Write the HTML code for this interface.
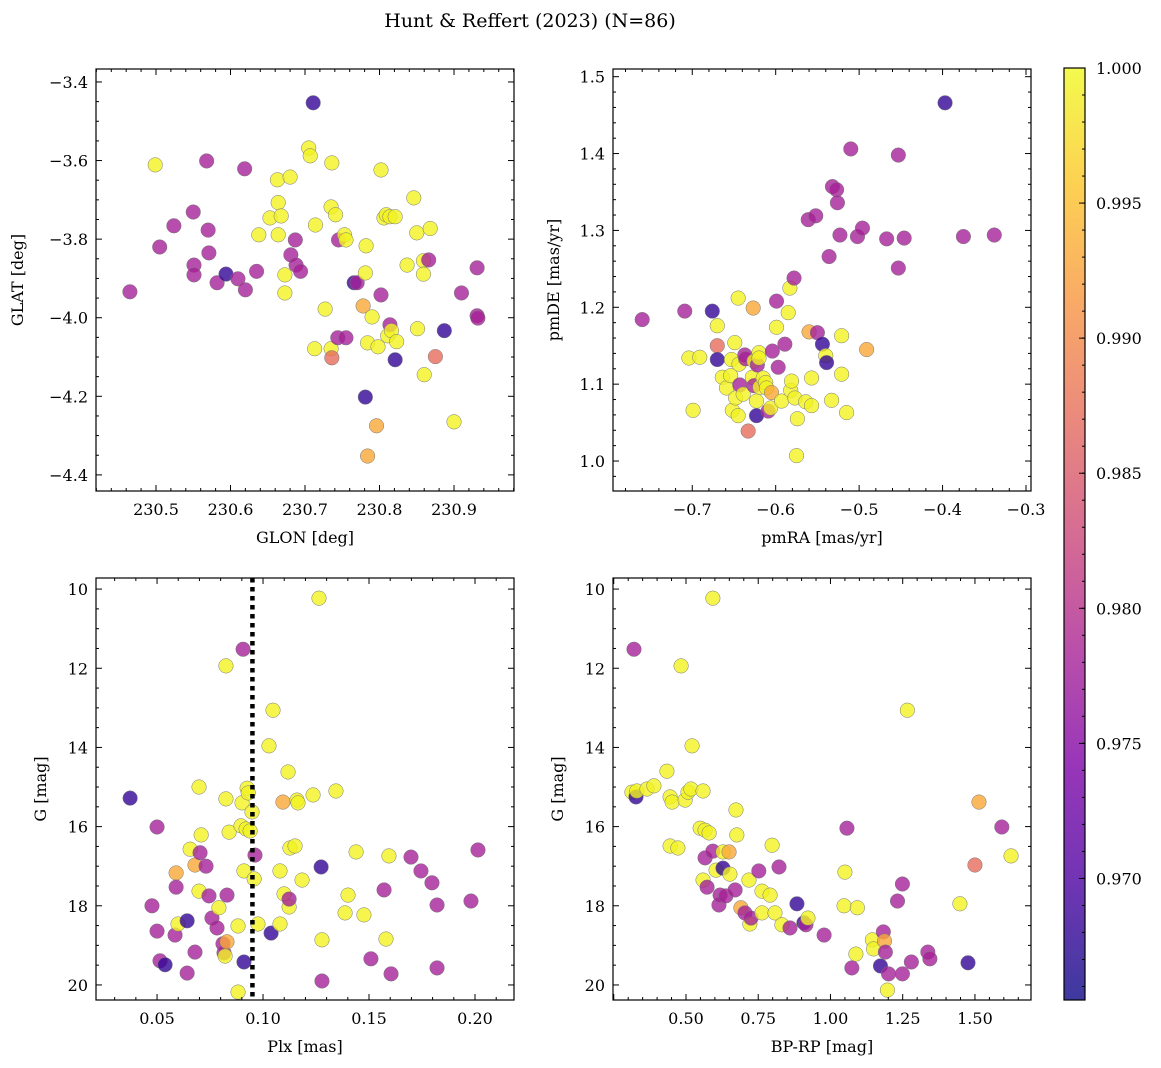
<!DOCTYPE html>
<html><head><meta charset="utf-8"><style>
body{margin:0;background:#fff;}
svg{display:block;font-family:"DejaVu Serif","Liberation Serif",serif;}
</style></head><body>
<svg id="c" width="1161" height="1068" xmlns="http://www.w3.org/2000/svg">
<defs>
<linearGradient id="plasma" x1="0" y1="1" x2="0" y2="0">
<stop offset="0" stop-color="#0d0887"/><stop offset="0.125" stop-color="#4c02a1"/><stop offset="0.25" stop-color="#7e03a8"/><stop offset="0.375" stop-color="#a92395"/><stop offset="0.5" stop-color="#cc4778"/><stop offset="0.625" stop-color="#e66c5c"/><stop offset="0.75" stop-color="#f89540"/><stop offset="0.875" stop-color="#fdc527"/><stop offset="1" stop-color="#f0f921"/>
</linearGradient>
</defs>
<text x="530" y="27" font-size="19" text-anchor="middle">Hunt &amp; Reffert (2023) (N=86)</text>
</svg>
<script>
// Probability codes: Y=0.9995, P=0.978, D=0.968, O=0.993, S=0.987
const probLevels = {Y:0.9995, P:0.978, D:0.968, O:0.993, S:0.987};
const glon = [230.465,230.499,230.505,230.524,230.550,230.551,230.551,230.568,230.570,230.571,230.582,230.594,230.610,230.619,230.620,230.635,230.638,230.653,230.663,230.664,230.664,230.668,230.673,230.673,230.680,230.681,230.687,230.688,230.694,230.705,230.707,230.711,230.713,230.714,230.727,230.736,230.735,230.735,230.736,230.741,230.745,230.744,230.755,230.753,230.755,230.766,230.770,230.778,230.782,230.781,230.781,230.784,230.784,230.790,230.796,230.798,230.802,230.802,230.806,230.809,230.811,230.814,230.814,230.816,230.821,230.821,230.823,230.837,230.846,230.850,230.851,230.860,230.859,230.859,230.866,230.868,230.875,230.887,230.900,230.910,230.931,230.931,230.932];
const glat = [-3.934,-3.611,-3.82,-3.766,-3.731,-3.866,-3.891,-3.601,-3.777,-3.835,-3.911,-3.889,-3.901,-3.621,-3.929,-3.882,-3.789,-3.746,-3.649,-3.707,-3.789,-3.741,-3.891,-3.937,-3.642,-3.840,-3.802,-3.866,-3.882,-3.568,-3.588,-3.453,-4.079,-3.764,-3.978,-3.606,-3.718,-4.079,-4.102,-3.738,-3.802,-4.051,-4.051,-3.789,-3.802,-3.911,-3.911,-3.97,-3.817,-3.886,-4.202,-4.064,-4.352,-3.998,-4.275,-4.074,-3.624,-3.942,-3.746,-3.738,-4.046,-4.018,-3.743,-4.033,-3.743,-4.107,-4.061,-3.866,-3.695,-3.784,-4.028,-4.145,-3.855,-3.889,-3.853,-3.773,-4.099,-4.033,-4.265,-3.937,-3.873,-3.995,-4.001];
const probA = "PYPPPPPPPPPDPPPPYYYYYYYYYPPPPYYDYYYYYYSYPPPYYDPOYYDYOYOYYPYYYPYYYDYYYYYYYYPYSDYPPPP";

const pmra = [-0.760,-0.709,-0.704,-0.699,-0.691,-0.676,-0.670,-0.670,-0.670,-0.664,-0.659,-0.654,-0.653,-0.652,-0.649,-0.645,-0.648,-0.645,-0.644,-0.643,-0.637,-0.636,-0.639,-0.633,-0.628,-0.626,-0.626,-0.623,-0.627,-0.623,-0.622,-0.620,-0.620,-0.619,-0.615,-0.612,-0.611,-0.609,-0.605,-0.606,-0.604,-0.599,-0.599,-0.597,-0.593,-0.589,-0.585,-0.583,-0.582,-0.581,-0.578,-0.577,-0.575,-0.574,-0.564,-0.561,-0.560,-0.557,-0.557,-0.552,-0.550,-0.544,-0.540,-0.539,-0.536,-0.533,-0.532,-0.527,-0.526,-0.523,-0.521,-0.521,-0.515,-0.510,-0.502,-0.496,-0.491,-0.467,-0.453,-0.453,-0.446,-0.397,-0.375,-0.338];
const pmde = [1.184,1.195,1.134,1.066,1.135,1.195,1.150,1.176,1.132,1.109,1.095,1.111,1.132,1.066,1.154,1.212,1.082,1.059,1.126,1.099,1.138,1.133,1.087,1.039,1.109,1.130,1.098,1.078,1.199,1.059,1.125,1.141,1.134,1.096,1.108,1.102,1.095,1.065,1.089,1.069,1.143,1.208,1.174,1.122,1.078,1.152,1.193,1.225,1.092,1.104,1.238,1.082,1.007,1.055,1.077,1.314,1.168,1.072,1.108,1.319,1.167,1.152,1.137,1.128,1.266,1.079,1.357,1.353,1.336,1.294,1.113,1.163,1.063,1.406,1.292,1.303,1.145,1.289,1.398,1.251,1.290,1.466,1.292,1.294];
const probB = "PPYYYDSYDYYYYYYYYYYPPPYSYYPYODPYYYYYYPOYPPYPYPYYYYPYYYYPOYYPPDYDPYPPPPYYYPPPOPPPPDPP";

const plx = [0.0373,0.0476,0.050,0.050,0.0514,0.0538,0.0585,0.059,0.059,0.0599,0.0642,0.0642,0.0656,0.0679,0.0679,0.0698,0.0698,0.0703,0.0708,0.0731,0.0745,0.0759,0.0783,0.0792,0.0811,0.0816,0.0825,0.083,0.0821,0.0825,0.083,0.0840,0.0882,0.0882,0.0896,0.0901,0.0906,0.091,0.091,0.092,0.0925,0.093,0.0939,0.0948,0.0958,0.0962,0.0976,0.1028,0.1038,0.1047,0.108,0.108,0.1094,0.1099,0.1118,0.1123,0.1127,0.1123,0.1151,0.116,0.1165,0.1184,0.1236,0.1264,0.1274,0.1278,0.1278,0.1344,0.1387,0.1401,0.1439,0.1476,0.1509,0.1571,0.158,0.1594,0.1604,0.1698,0.1745,0.1797,0.1821,0.1821,0.1981,0.2014];
const gmagC = [15.28,18.0,16.01,18.64,19.39,19.49,18.74,17.17,17.53,18.46,19.70,18.38,16.57,16.97,19.17,15.0,17.63,16.66,16.21,17.0,17.75,18.31,18.56,18.05,18.96,19.19,11.94,18.91,19.27,15.30,17.73,16.14,20.18,18.51,15.98,15.40,11.52,19.42,17.12,16.06,15.03,15.15,16.11,15.63,17.32,16.72,18.46,13.96,18.69,13.06,18.46,17.12,15.38,17.70,14.62,18.03,16.54,17.83,16.49,15.33,15.40,17.35,15.20,10.23,17.02,18.86,19.90,15.10,18.18,17.73,16.64,18.23,19.34,17.60,18.84,16.74,19.72,16.77,17.12,17.42,17.98,19.57,17.88,16.59];
const probC = "DPPPPDPOPYPDYOPYYPYPPPPYPPYOYYPYYYYYPDYYYYYYYPYYDYYYOYYYYPYYYYYYDYPYYYYYPPYYPPPPPPPP";

const bprp = [0.320,0.313,0.327,0.330,0.365,0.389,0.434,0.445,0.452,0.445,0.472,0.483,0.497,0.507,0.517,0.521,0.559,0.549,0.559,0.566,0.566,0.573,0.580,0.593,0.593,0.604,0.614,0.618,0.628,0.628,0.638,0.649,0.652,0.670,0.673,0.676,0.690,0.704,0.718,0.721,0.725,0.752,0.763,0.763,0.791,0.798,0.808,0.822,0.832,0.860,0.884,0.908,0.915,0.922,0.978,1.047,1.057,1.050,1.074,1.088,1.093,1.145,1.149,1.173,1.183,1.187,1.190,1.197,1.201,1.232,1.249,1.249,1.266,1.280,1.337,1.344,1.448,1.476,1.500,1.514,1.593,1.625];
const gmagD = [11.52,15.13,15.25,15.10,15.05,14.97,14.6,15.25,15.38,16.49,16.54,11.94,15.33,15.13,15.05,13.96,15.10,16.04,17.35,16.09,16.79,17.53,16.16,10.23,16.62,17.10,17.98,17.73,17.05,16.64,17.75,16.64,17.20,17.60,15.58,16.21,18.05,18.18,17.35,18.46,18.31,17.12,17.63,18.18,17.73,16.47,18.18,17.02,18.48,18.56,17.95,18.43,18.48,18.31,18.74,18.0,16.04,17.15,19.57,19.22,18.05,18.86,19.09,19.52,18.66,18.89,19.17,20.13,19.72,17.88,19.72,17.45,13.06,19.42,19.17,19.34,17.95,19.44,16.97,15.38,16.01,16.74];
const probD = "PYDYYYYYYYYYYYYYYYYYPPYYPYPPDYPOYPYYOPYYPPYYYYYPYPDDPYPYPYPYYYYDPOPYPPPPYPPPYDSOPY";

const cbTicks = [0.970,0.975,0.980,0.985,0.990,0.995,1.000];
const VMIN = 0.9655, VMAX = 1.0;

const NS = "http://www.w3.org/2000/svg";
const svg = document.getElementById('c');
function mk(tag, attrs, parent){const e=document.createElementNS(NS,tag);for(const k in attrs)e.setAttribute(k,attrs[k]);(parent||svg).appendChild(e);return e;}
const stops=[[0,[13,8,135]],[0.125,[76,2,161]],[0.25,[126,3,168]],[0.375,[169,35,149]],[0.5,[204,71,120]],[0.625,[230,108,92]],[0.75,[248,149,64]],[0.875,[253,197,39]],[1,[240,249,33]]];
function plasma(t){t=Math.max(0,Math.min(1,t));for(let i=1;i<stops.length;i++){if(t<=stops[i][0]){const a=stops[i-1],b=stops[i];const f=(t-a[0])/(b[0]-a[0]);const c=a[1].map((v,j)=>Math.round(v+(b[1][j]-v)*f));return `rgb(${c[0]},${c[1]},${c[2]})`;}}return 'rgb(240,249,33)';}
function fmt(v,d){return (v<0?'\u2212':'')+Math.abs(v).toFixed(d);}

function panel(o){
  const g=mk('g',{});
  
  
  const sx=v=>o.x0+(v-o.xmin)/(o.xmax-o.xmin)*(o.x1-o.x0);
  const sy=o.invert? v=>o.y0+(v-o.ymin)/(o.ymax-o.ymin)*(o.y1-o.y0) : v=>o.y1-(v-o.ymin)/(o.ymax-o.ymin)*(o.y1-o.y0);
  for(let i=0;i<Math.min(o.xs.length,o.ys.length);i++){
    const p=probLevels[o.probs[i]]||probLevels.Y;
    const c=mk('circle',{cx:sx(o.xs[i]),cy:sy(o.ys[i]),r:7.3,fill:plasma((p-VMIN)/(VMAX-VMIN)),'fill-opacity':0.8,stroke:'#777','stroke-width':0.5},g);
    
    
  }
  if(o.vline!==undefined){
    const l=mk('line',{x1:sx(o.vline),x2:sx(o.vline),y1:o.y0,y2:o.y1,stroke:'#000','stroke-width':4.5,'stroke-dasharray':'4.5,4.5'},g);
    
    
  }
  const fr=mk('rect',{x:o.x0,y:o.y0,width:o.x1-o.x0,height:o.y1-o.y0,fill:'none',stroke:'#000','stroke-width':1.2},g);
  
  
  const eps=1e-9;
  for(let v=Math.ceil(o.xmin/o.xminor-eps)*o.xminor; v<=o.xmax+eps; v+=o.xminor){
    const isMaj=Math.abs(v/o.xmajor-Math.round(v/o.xmajor))<1e-6;const L=isMaj?6:3;const X=sx(v);
    mk('line',{x1:X,x2:X,y1:o.y1,y2:o.y1-L,stroke:'#000','stroke-width':1},g);
    mk('line',{x1:X,x2:X,y1:o.y0,y2:o.y0+L,stroke:'#000','stroke-width':1},g);
    if(isMaj){const t=mk('text',{x:X,y:o.y1+24,'font-size':16,'text-anchor':'middle'},g);t.textContent=fmt(v,o.xdec);
      }
  }
  for(let v=Math.ceil(o.ymin/o.yminor-eps)*o.yminor; v<=o.ymax+eps; v+=o.yminor){
    const isMaj=Math.abs(v/o.ymajor-Math.round(v/o.ymajor))<1e-6;const L=isMaj?6:3;const Y=sy(v);
    mk('line',{x1:o.x0,x2:o.x0+L,y1:Y,y2:Y,stroke:'#000','stroke-width':1},g);
    mk('line',{x1:o.x1,x2:o.x1-L,y1:Y,y2:Y,stroke:'#000','stroke-width':1},g);
    if(isMaj){const t=mk('text',{x:o.x0-8,y:Y+6,'font-size':16,'text-anchor':'end'},g);t.textContent=fmt(v,o.ydec);
      }
  }
  const xl=mk('text',{x:(o.x0+o.x1)/2,y:o.y1+52,'font-size':16,'text-anchor':'middle'},g);xl.textContent=o.xlabel;
  
  const yx=o.ylx, yy=(o.y0+o.y1)/2;
  const yl=mk('text',{x:yx,y:yy,'font-size':16,'text-anchor':'middle',transform:`rotate(-90 ${yx} ${yy})`},g);yl.textContent=o.ylabel;
  
}

panel({name:'glon-glat-panel',x0:96,x1:514,y0:69,y1:491,xmin:230.4195,xmax:230.9805,ymin:-4.441,ymax:-3.367,xmajor:0.1,xminor:0.02,ymajor:0.2,yminor:0.05,xdec:1,ydec:1,xs:glon,ys:glat,probs:probA,xlabel:'GLON [deg]',ylabel:'GLAT [deg]',ylx:23});
panel({name:'proper-motion-panel',x0:613,x1:1031,y0:69,y1:491,xmin:-0.795,xmax:-0.294,ymin:0.961,ymax:1.510,xmajor:0.1,xminor:0.02,ymajor:0.1,yminor:0.02,xdec:1,ydec:1,xs:pmra,ys:pmde,probs:probB,xlabel:'pmRA [mas/yr]',ylabel:'pmDE [mas/yr]',ylx:559});
panel({name:'parallax-g-panel',x0:96,x1:514,y0:578,y1:1000,xmin:0.0212,xmax:0.2184,ymin:9.72,ymax:20.38,invert:true,xmajor:0.05,xminor:0.01,ymajor:2,yminor:0.5,xdec:2,ydec:0,xs:plx,ys:gmagC,probs:probC,xlabel:'Plx [mas]',ylabel:'G [mag]',ylx:46,vline:0.095});
panel({name:'cmd-panel',x0:613,x1:1031,y0:578,y1:1000,xmin:0.2474,xmax:1.694,ymin:9.72,ymax:20.38,invert:true,xmajor:0.25,xminor:0.05,ymajor:2,yminor:0.5,xdec:2,ydec:0,xs:bprp,ys:gmagD,probs:probD,xlabel:'BP-RP [mag]',ylabel:'G [mag]',ylx:563,skipFirst:true});

// hide 0.25 label in CMD panel (outside visible tick range in reference)
document.querySelectorAll('text').forEach(t=>{if(t.textContent==='0.25')t.remove();});

const cb=mk('g',{});


const cbx0=1064,cbx1=1085,cby0=68,cby1=1000;
mk('rect',{x:cbx0,y:cby0,width:cbx1-cbx0,height:cby1-cby0,fill:'url(#plasma)','fill-opacity':0.8},cb);
mk('rect',{x:cbx0,y:cby0,width:cbx1-cbx0,height:cby1-cby0,fill:'none',stroke:'#000','stroke-width':1.2},cb);
const cy=v=>cby1-(v-VMIN)/(VMAX-VMIN)*(cby1-cby0);
for(let k=Math.ceil(VMIN*1000);k<=1000;k++){const Y=cy(k/1000);mk('line',{x1:cbx1,x2:cbx1-3,y1:Y,y2:Y,stroke:'#000','stroke-width':1},cb);}
cbTicks.forEach(v=>{const Y=cy(v);mk('line',{x1:cbx1,x2:cbx1-6,y1:Y,y2:Y,stroke:'#000','stroke-width':1},cb);
  const t=mk('text',{x:1096,y:Y+6,'font-size':16},cb);t.textContent=v.toFixed(3);
  });
</script>
</body></html>
